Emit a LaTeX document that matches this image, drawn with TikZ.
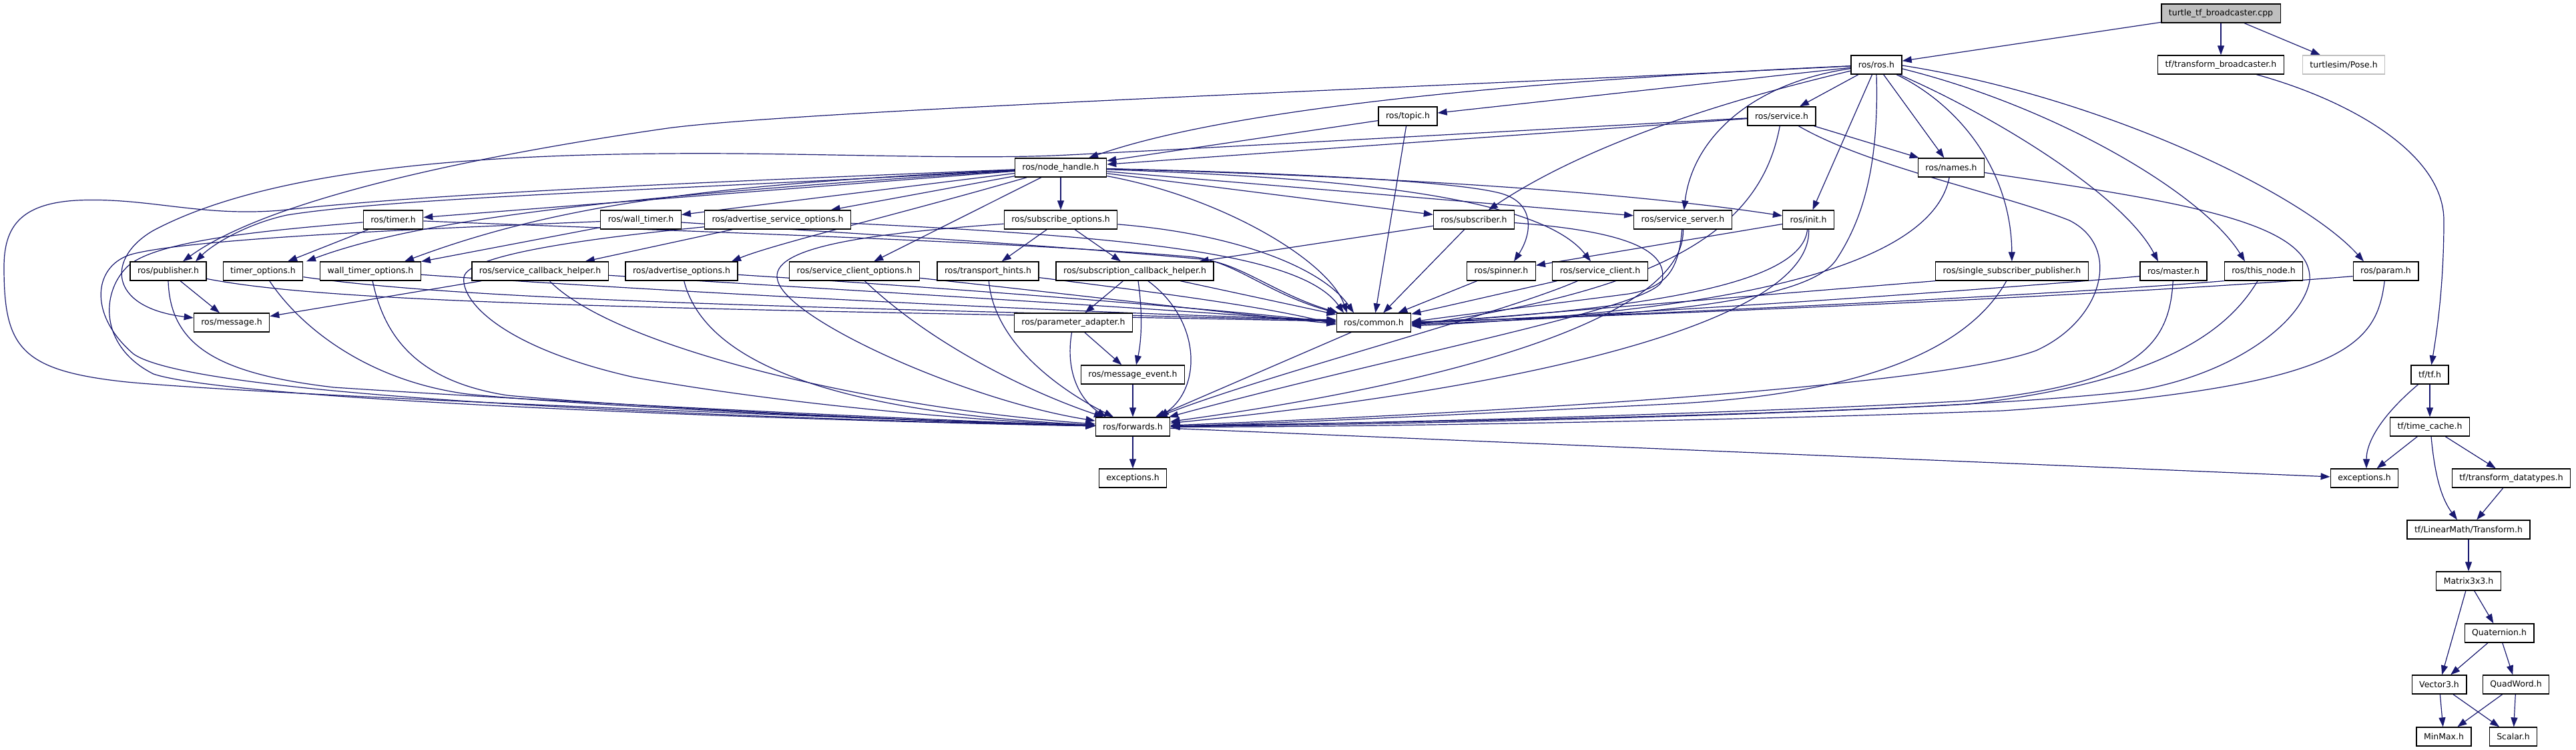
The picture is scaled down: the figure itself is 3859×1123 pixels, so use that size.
\documentclass[tikz,border=0pt]{standalone}
\usepackage{fontspec}
\setmainfont{DejaVu Sans}
\usetikzlibrary{arrows.meta}
\definecolor{edgecol}{HTML}{191970}
\definecolor{graybox}{HTML}{BFBFBF}
\newcommand\boxfont{\fontsize{12.5pt}{14pt}\selectfont}
\pgfdeclarelayer{bglayer}
\pgfdeclarelayer{edgelayer}
\pgfsetlayers{bglayer,edgelayer,main}
\tikzset{
  box/.style={draw=black, line width=1.3pt, fill=white, inner xsep=11pt, inner ysep=0pt, minimum height=28pt, font=\boxfont},
  e/.style={draw=edgecol, line width=1.2pt, -{Triangle[length=14pt,width=10pt]}}
}
\begin{document}
\begin{tikzpicture}[x=1pt,y=-1pt]
\begin{pgfonlayer}{bglayer}
\fill[white] (0,0) rectangle (3859,1123);
\end{pgfonlayer}
\useasboundingbox (0,0) rectangle (3859,1123);
% nodes
\node[box, fill=graybox] (cpp) at (3327,20) {turtle\_tf\_broadcaster.cpp};
\node[box] (ros) at (2811,97) {ros/ros.h};
\node[box] (tfb) at (3327,97) {tf/transform\_broadcaster.h};
\node[box, draw=graybox] (pose) at (3511,97) {turtlesim/Pose.h};
\node[box] (topic) at (2109,174) {ros/topic.h};
\node[box] (service) at (2669,174) {ros/service.h};
\node[box] (nh) at (1589,251) {ros/node\_handle.h};
\node[box] (names) at (2923,251) {ros/names.h};
\node[box] (timer) at (589,329) {ros/timer.h};
\node[box] (wtimer) at (960,329) {ros/wall\_timer.h};
\node[box] (aso) at (1165,329) {ros/advertise\_service\_options.h};
\node[box] (subo) at (1589,329) {ros/subscribe\_options.h};
\node[box] (subscr) at (2208,329) {ros/subscriber.h};
\node[box] (sserver) at (2521,329) {ros/service\_server.h};
\node[box] (init) at (2709,329) {ros/init.h};
\node[box] (pub) at (252,406) {ros/publisher.h};
\node[box] (topt) at (394,406) {timer\_options.h};
\node[box] (wtopt) at (555,406) {wall\_timer\_options.h};
\node[box] (scbh) at (809,406) {ros/service\_callback\_helper.h};
\node[box] (ao) at (1021,406) {ros/advertise\_options.h};
\node[box] (sco) at (1280,406) {ros/service\_client\_options.h};
\node[box] (th) at (1480,406) {ros/transport\_hints.h};
\node[box] (sch) at (1700,406) {ros/subscription\_callback\_helper.h};
\node[box] (spinner) at (2249,406) {ros/spinner.h};
\node[box] (sclient) at (2397,406) {ros/service\_client.h};
\node[box] (ssp) at (3014,406) {ros/single\_subscriber\_publisher.h};
\node[box] (master) at (3256,406) {ros/master.h};
\node[box] (thisnode) at (3391,406) {ros/this\_node.h};
\node[box] (param) at (3574,406) {ros/param.h};
\node[box] (message) at (347,483) {ros/message.h};
\node[box] (padapt) at (1608,483) {ros/parameter\_adapter.h};
\node[box] (common) at (2058,483) {ros/common.h};
\node[box] (mevent) at (1697,561) {ros/message\_event.h};
\node[box] (tftf) at (3640,561) {tf/tf.h};
\node[box] (fwd) at (1697,639) {ros/forwards.h};
\node[box] (tcache) at (3640,639) {tf/time\_cache.h};
\node[box] (exca) at (1697,716) {exceptions.h};
\node[box] (excb) at (3542,716) {exceptions.h};
\node[box] (tdt) at (3762,716) {tf/transform\_datatypes.h};
\node[box] (transf) at (3698,793) {tf/LinearMath/Transform.h};
\node[box] (matrix) at (3698,870) {Matrix3x3.h};
\node[box] (quat) at (3744,948) {Quaternion.h};
\node[box] (vect) at (3654,1025) {Vector3.h};
\node[box] (quadw) at (3769,1025) {QuadWord.h};
\node[box] (minmax) at (3661,1103) {MinMax.h};
\node[box] (scalar) at (3765,1103) {Scalar.h};
\begin{pgfonlayer}{edgelayer}
% top
\draw[e] (cpp) -- (ros);
\draw[e] (cpp) -- (tfb);
\draw[e] (cpp) -- (pose);
\draw[e] (tfb) .. controls (3520,150) and (3661,230) .. (3661,330) .. controls (3661,430) and (3650,500) .. (tftf);
% ros
\draw[e] (ros) -- (topic);
\draw[e] (ros) .. controls (2300,120) and (1850,160) .. (nh);
\draw[e] (ros) .. controls (2200,128) and (1200,165) .. (1000,192) .. controls (700,235) and (400,300) .. ([xshift=22pt]pub.north);
\draw[e] (ros) -- (service);
\draw[e] (ros) -- (init);
\draw[e] (ros) -- (names);
\draw[e] (ros) .. controls (2650,135) and (2400,200) .. (subscr);
\draw[e] (ros) .. controls (2620,125) and (2535,210) .. (sserver);
\draw[e] (ros) .. controls (2940,160) and (3013,260) .. (ssp);
\draw[e] ([xshift=34pt]ros.south) .. controls (2980,170) and (3180,290) .. ([xshift=-23pt]master.north);
\draw[e] ([yshift=-6pt]ros.east) .. controls (3080,160) and (3300,290) .. ([xshift=-28pt]thisnode.north);
\draw[e] ([yshift=-1pt]ros.east) .. controls (3150,145) and (3450,290) .. ([xshift=-33pt]param.north);
\draw[e] (ros.south) .. controls (2815,250) and (2790,330) .. (2750,390) .. controls (2700,460) and (2400,475) .. ([yshift=-3pt]common.east);
% topic
\draw[e] (topic) -- (nh);
\draw[e] (topic) -- (common);
% service
\draw[e] (service) -- (nh);
\draw[e] (service) .. controls (2200,200) and (1800,222) .. (1600,232) .. controls (1450,240) and (1200,228) .. (1000,230) .. controls (700,232) and (400,255) .. (230,345) .. controls (160,385) and (160,460) .. (message);
\draw[e] (service) -- (names);
\draw[e] (service) .. controls (2640,330) and (2520,430) .. ([yshift=-4pt]common.east);
\draw[e] (service) .. controls (2800,250) and (3000,290) .. (3100,330) .. controls (3180,370) and (3150,480) .. (3050,525) .. controls (2900,580) and (2200,620) .. (fwd);
% names
\draw[e] (names) .. controls (2890,420) and (2500,470) .. ([yshift=-5pt]common.east);
\draw[e] (names) .. controls (3250,300) and (3466,330) .. (3460,420) .. controls (3450,480) and (3350,560) .. (3200,585) .. controls (2900,620) and (2200,630) .. (fwd);
% node_handle
\draw[e] (nh) .. controls (1000,275) and (650,290) .. (420,315) .. controls (300,325) and (220,295) .. (115,300) .. controls (30,305) and (6,340) .. (6,400) .. controls (6,520) and (30,555) .. (190,572) .. controls (400,592) and (1300,628) .. (fwd);
\draw[e] (nh) .. controls (1000,285) and (600,295) .. (430,322) .. controls (370,335) and (320,365) .. ([xshift=41pt]pub.north);
\draw[e] (nh) -- (timer);
\draw[e] (nh) -- (wtimer);
\draw[e] (nh) -- (aso);
\draw[e] (nh) .. controls (1350,320) and (1160,365) .. ([xshift=75pt]ao.north);
\draw[e] (nh) -- (sco);
\draw[e] (nh) -- (subo);
\draw[e] (nh) .. controls (1000,290) and (650,320) .. ([xshift=65pt]topt.north);
\draw[e] (nh) .. controls (1100,275) and (850,300) .. ([xshift=51pt]wtopt.north);
\draw[e] (nh) .. controls (1900,258) and (2180,270) .. (2250,290) .. controls (2300,305) and (2295,350) .. ([xshift=19pt]spinner.north);
\draw[e] (nh) .. controls (1950,265) and (2300,285) .. ([xshift=-14pt]sclient.north);
\draw[e] (nh) -- (sserver);
\draw[e] (nh) .. controls (2000,262) and (2400,282) .. (init);
\draw[e] (nh) -- (subscr);
\draw[e] (nh) .. controls (1830,295) and (1990,390) .. ([xshift=-40pt]common.north);
% timer
\draw[e] (timer) -- (topt);
\draw[e] (timer) .. controls (900,342) and (1500,360) .. (1790,385) .. controls (1850,392) and (1900,440) .. (common.north west);
\draw[e] (timer) .. controls (400,345) and (230,360) .. (190,400) .. controls (150,440) and (150,520) .. (230,560) .. controls (350,600) and (1200,630) .. (fwd);
% wall timer
\draw[e] (wtimer) -- (wtopt);
\draw[e] (wtimer) .. controls (1250,348) and (1550,365) .. (1800,388) .. controls (1860,395) and (1910,440) .. ([xshift=3pt]common.north west);
\draw[e] (wtimer) .. controls (700,340) and (300,355) .. (200,380) .. controls (140,395) and (130,470) .. (200,530) .. controls (300,600) and (1200,628) .. (fwd);
% advertise service options
\draw[e] (aso) -- (scbh);
\draw[e] (aso) .. controls (1700,355) and (1950,380) .. ([xshift=-45pt]common.north);
\draw[e] (aso) .. controls (900,355) and (700,380) .. (695,415) .. controls (690,450) and (750,520) .. (950,565) .. controls (1200,610) and (1500,632) .. (fwd);
% subscribe options
\draw[e] (subo) -- (th);
\draw[e] (subo) -- (sch);
\draw[e] (subo) .. controls (1850,350) and (1980,400) .. ([xshift=-30pt]common.north);
\draw[e] (subo) .. controls (1300,350) and (1150,370) .. (1165,420) .. controls (1180,480) and (1450,600) .. (fwd);
% subscriber
\draw[e] (subscr) -- (sch);
\draw[e] (subscr) -- (common);
\draw[e] (subscr) .. controls (2420,345) and (2500,370) .. (2490,420) .. controls (2480,460) and (2100,530) .. (fwd);
% service server
\draw[e] (sserver) .. controls (2515,400) and (2500,430) .. (2440,440) .. controls (2350,452) and (2200,470) .. ([yshift=1pt]common.east);
\draw[e] (sserver) .. controls (2525,470) and (2200,570) .. (fwd);
% init
\draw[e] (init) -- (spinner);
\draw[e] (init) .. controls (2700,420) and (2500,460) .. ([yshift=-1pt]common.east);
\draw[e] (init) .. controls (2715,480) and (2300,580) .. (fwd);
% row 5
\draw[e] (pub) -- (message);
\draw[e] (pub) .. controls (500,455) and (1000,462) .. ([yshift=2pt]common.west);
\draw[e] (pub.south) .. controls (255,520) and (330,560) .. (500,580) .. controls (800,600) and (1400,630) .. (fwd);
\draw[e] (topt) .. controls (700,450) and (1200,460) .. ([yshift=3pt]common.west);
\draw[e] (topt) .. controls (450,490) and (550,570) .. (700,590) .. controls (900,610) and (1400,632) .. (fwd);
\draw[e] (wtopt) .. controls (900,430) and (1500,465) .. ([yshift=4pt]common.west);
\draw[e] (wtopt) .. controls (575,500) and (620,570) .. (760,592) .. controls (950,610) and (1400,632) .. (fwd);
\draw[e] (scbh) -- (message);
\draw[e] (scbh) .. controls (1200,430) and (1700,460) .. ([yshift=1pt]common.west);
\draw[e] (scbh) .. controls (920,520) and (1300,610) .. (fwd);
\draw[e] (ao) .. controls (1400,430) and (1800,460) .. (common.west);
\draw[e] (ao) .. controls (1060,560) and (1300,620) .. (fwd);
\draw[e] (sco) .. controls (1600,440) and (1850,470) .. ([yshift=-2pt]common.west);
\draw[e] (sco) .. controls (1400,520) and (1550,590) .. (fwd);
\draw[e] (th) .. controls (1750,440) and (1900,460) .. ([yshift=-3pt]common.west);
\draw[e] (th) .. controls (1490,520) and (1600,590) .. (fwd);
\draw[e] (sch) -- (padapt);
\draw[e] ([xshift=5pt]sch.south) .. controls (1712,470) and (1710,510) .. ([xshift=5pt]mevent.north);
\draw[e] (sch) .. controls (1800,480) and (1800,580) .. ([xshift=40pt]fwd.north);
\draw[e] (sch) -- (common);
\draw[e] (padapt) -- (mevent);
\draw[e] (padapt) .. controls (1595,560) and (1620,600) .. ([xshift=-40pt]fwd.north);
\draw[e] (mevent) -- (fwd);
\draw[e] (spinner) -- (common);
\draw[e] (sclient) -- (common);
\draw[e] (sclient) .. controls (2250,470) and (1900,560) .. (fwd);
\draw[e] (ssp.south west) -- ([yshift=-2pt]common.east);
\draw[e] (ssp) .. controls (2950,520) and (2800,590) .. (2500,605) .. controls (2200,620) and (1900,635) .. (fwd);
\draw[e] ([yshift=7pt]master.south west) .. controls (3000,432) and (2500,468) .. ([yshift=-1pt]common.east);
\draw[e] (master) .. controls (3250,520) and (3200,575) .. (2950,600) .. controls (2600,620) and (2000,635) .. (fwd);
\draw[e] (thisnode.south west) .. controls (3100,440) and (2500,470) .. ([yshift=0pt]common.east);
\draw[e] (thisnode) .. controls (3340,490) and (3250,570) .. (2950,605) .. controls (2600,625) and (2000,637) .. (fwd);
\draw[e] ([yshift=7pt]param.south west) .. controls (3200,440) and (2500,472) .. ([yshift=1pt]common.east);
\draw[e] (param) .. controls (3560,520) and (3510,580) .. (3000,615) .. controls (2600,630) and (2000,640) .. (fwd);
\draw[e] (common) -- (fwd);
\draw[e] (fwd) -- (exca);
\draw[e] (fwd) -- (excb);
% tf
\draw[e] (tftf) .. controls (3570,620) and (3545,660) .. ([xshift=3pt]excb.north);
\draw[e] (tftf) -- (tcache);
\draw[e] (tcache) -- (excb);
\draw[e] (tcache) -- (tdt);
\draw[e] ([xshift=2pt]tcache.south) .. controls (3648,720) and (3660,750) .. ([xshift=-17pt]transf.north);
\draw[e] (tdt) -- (transf);
\draw[e] (transf) -- (matrix);
\draw[e] (matrix) -- (vect);
\draw[e] (matrix) -- (quat);
\draw[e] (quat) -- (vect);
\draw[e] (quat) -- (quadw);
\draw[e] (vect) -- (minmax);
\draw[e] (vect) -- (scalar);
\draw[e] (quadw) -- (minmax);
\draw[e] (quadw) -- (scalar);
\end{pgfonlayer}
\end{tikzpicture}
\end{document}
